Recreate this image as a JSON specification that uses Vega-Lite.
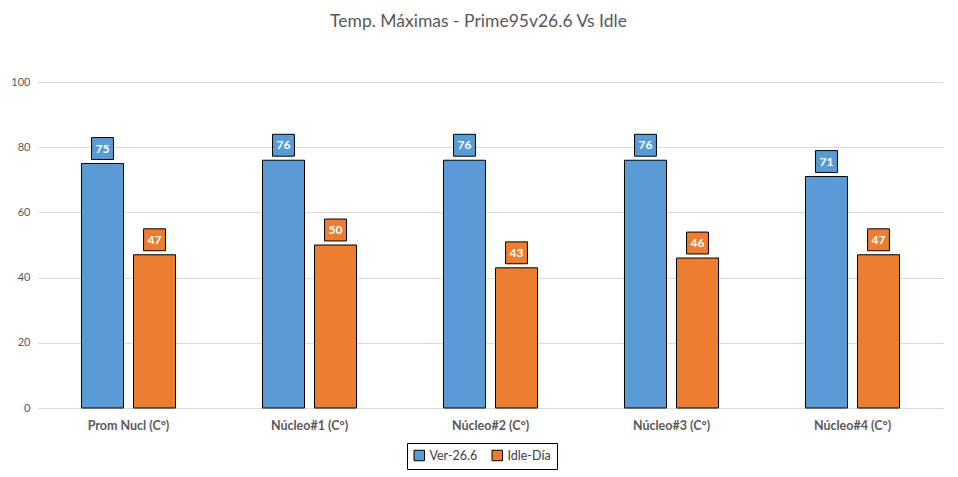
{
  "$schema": "https://vega.github.io/schema/vega-lite/v6.json",
  "autosize": "none",
  "width": 905,
  "height": 326,
  "padding": {"left": 38, "top": 82, "right": 15, "bottom": 69},
  "background": "white",
  "title": {
    "text": "Temp. Máximas - Prime95v26.6 Vs Idle",
    "anchor": "middle",
    "dx": -12,
    "offset": 46,
    "font": "Lato",
    "fontSize": 17.5,
    "fontWeight": "normal",
    "color": "#595959"
  },
  "data": {
    "values": [
      {"core": "Prom Nucl (C°)", "serie": "Ver-26.6", "temp": 75},
      {"core": "Núcleo#1 (C°)", "serie": "Ver-26.6", "temp": 76},
      {"core": "Núcleo#2 (C°)", "serie": "Ver-26.6", "temp": 76},
      {"core": "Núcleo#3 (C°)", "serie": "Ver-26.6", "temp": 76},
      {"core": "Núcleo#4 (C°)", "serie": "Ver-26.6", "temp": 71},
      {"core": "Prom Nucl (C°)", "serie": "Idle-Día", "temp": 47},
      {"core": "Núcleo#1 (C°)", "serie": "Idle-Día", "temp": 50},
      {"core": "Núcleo#2 (C°)", "serie": "Idle-Día", "temp": 43},
      {"core": "Núcleo#3 (C°)", "serie": "Idle-Día", "temp": 46},
      {"core": "Núcleo#4 (C°)", "serie": "Idle-Día", "temp": 47}
    ]
  },
  "encoding": {
    "x": {
      "field": "core",
      "type": "nominal",
      "sort": null,
      "title": null,
      "scale": {"paddingInner": 0, "paddingOuter": 0},
      "axis": {
        "labelAngle": 0,
        "labelFont": "Lato",
        "labelFontSize": 12.5,
        "labelFontWeight": "bold",
        "labelColor": "#595959",
        "labelPadding": 11,
        "ticks": false,
        "domain": false,
        "grid": false
      }
    },
    "xOffset": {
      "field": "serie",
      "type": "nominal",
      "sort": ["Ver-26.6", "Idle-Día"],
      "scale": {"paddingInner": 0.192, "paddingOuter": 0.836}
    },
    "y": {
      "field": "temp",
      "type": "quantitative",
      "title": null,
      "scale": {"domain": [0, 100]},
      "axis": {
        "values": [0, 20, 40, 60, 80, 100],
        "labelFont": "Lato",
        "labelFontSize": 11,
        "labelColor": "#595959",
        "labelPadding": 8,
        "ticks": false,
        "domain": false,
        "gridColor": "#d9d9d9",
        "gridWidth": 1
      }
    },
    "color": {
      "field": "serie",
      "type": "nominal",
      "sort": ["Ver-26.6", "Idle-Día"],
      "scale": {"domain": ["Ver-26.6", "Idle-Día"], "range": ["#5b9bd5", "#ed7d31"]},
      "legend": {
        "title": null,
        "orient": "none",
        "legendX": 369,
        "legendY": 361,
        "direction": "horizontal",
        "strokeColor": "black",
        "padding": 6,
        "symbolType": "square",
        "symbolSize": 110,
        "symbolStrokeColor": "black",
        "symbolStrokeWidth": 1,
        "symbolOpacity": 1,
        "labelFont": "Lato",
        "labelFontSize": 12.5,
        "labelColor": "#404040",
        "columnPadding": 12
      }
    }
  },
  "layer": [
    {
      "mark": {"type": "bar", "stroke": "black", "strokeWidth": 1}
    },
    {
      "mark": {
        "type": "point",
        "shape": "square",
        "filled": true,
        "opacity": 1,
        "size": 480,
        "yOffset": -15,
        "stroke": "black",
        "strokeWidth": 1
      }
    },
    {
      "mark": {
        "type": "text",
        "dy": -15,
        "font": "Lato",
        "fontSize": 12,
        "fontWeight": "bold",
        "baseline": "middle",
        "fill": "white"
      },
      "encoding": {
        "text": {"field": "temp", "type": "quantitative"},
        "color": {"value": "white"}
      }
    }
  ],
  "config": {"view": {"stroke": null}}
}
